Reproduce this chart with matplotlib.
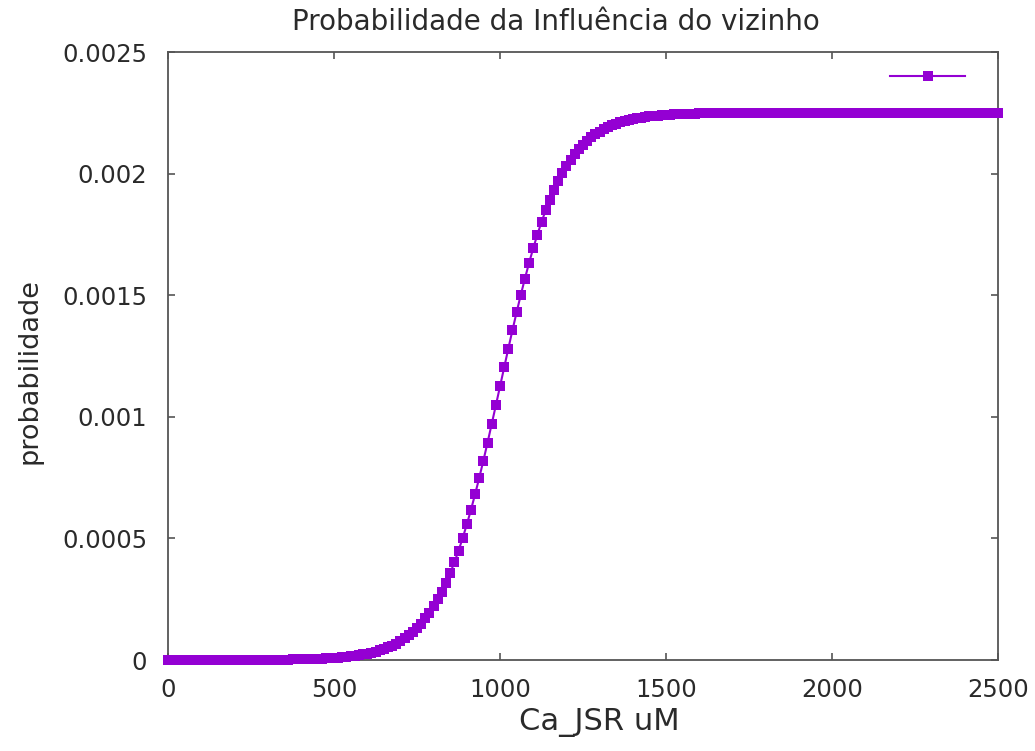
import numpy as np
import matplotlib
matplotlib.use("Agg")
import matplotlib.pyplot as plt

# Ca_JSR grid (uM), sampled every 12.5 uM from 0 to 2500
ca_jsr = np.arange(0, 2500.1, 12.5)

# probability values, in units of 1e-3
prob_low_milli = [  # x = 0 .. 987.5
    0.00003, 0.00004, 0.00004, 0.00005, 0.00006, 0.00007, 0.00008, 0.00009,
    0.00010, 0.00012, 0.00013, 0.00015, 0.00018, 0.00020, 0.00023, 0.00027,
    0.00031, 0.00036, 0.00041, 0.00047, 0.00054, 0.00062, 0.00071, 0.00082,
    0.00094, 0.00108, 0.00124, 0.00143, 0.00164, 0.00189, 0.00217, 0.00249,
    0.00286, 0.00328, 0.00377, 0.00434, 0.00498, 0.00572, 0.00657, 0.00755,
    0.00866, 0.00996, 0.01143, 0.01312, 0.01506, 0.01728, 0.01984, 0.02276,
    0.02612, 0.02996, 0.03435, 0.03938, 0.04513, 0.05170, 0.05920, 0.06776,
    0.07750, 0.08860, 0.10120, 0.11551, 0.13171, 0.15003, 0.17068, 0.19392,
    0.21999, 0.24914, 0.28161, 0.31765, 0.35746, 0.40122, 0.44907, 0.50108,
    0.55725, 0.61748, 0.68162, 0.74935, 0.82030, 0.89396, 0.96975, 1.04700,
]
prob_high_milli = [  # x = 1000 .. 2500
    1.12500, 1.20300, 1.28025, 1.35604, 1.42970, 1.50065, 1.56838, 1.63252,
    1.69275, 1.74892, 1.80093, 1.84878, 1.89254, 1.93235, 1.96839, 2.00086,
    2.03001, 2.05608, 2.07932, 2.09997, 2.11829, 2.13449, 2.14880, 2.16140,
    2.17250, 2.18224, 2.19080, 2.19830, 2.20487, 2.21062, 2.21565, 2.22004,
    2.22388, 2.22724, 2.23016, 2.23272, 2.23494, 2.23688, 2.23857, 2.24004,
    2.24134, 2.24245, 2.24343, 2.24428, 2.24502, 2.24566, 2.24623, 2.24672,
    2.24714, 2.24751, 2.24783, 2.24811, 2.24836, 2.24857, 2.24876, 2.24892,
    2.24906, 2.24918, 2.24929, 2.24938, 2.24946, 2.24953, 2.24959, 2.24964,
    2.24969, 2.24973, 2.24977, 2.24980, 2.24982, 2.24985, 2.24987, 2.24988,
    2.24990, 2.24991, 2.24992, 2.24993, 2.24994, 2.24995, 2.24996, 2.24996,
    2.24997, 2.24997, 2.24998, 2.24998, 2.24998, 2.24998, 2.24999, 2.24999,
    2.24999, 2.24999, 2.24999, 2.24999, 2.24999, 2.25000, 2.25000, 2.25000,
    2.25000, 2.25000, 2.25000, 2.25000, 2.25000, 2.25000, 2.25000, 2.25000,
    2.25000, 2.25000, 2.25000, 2.25000, 2.25000, 2.25000, 2.25000, 2.25000,
    2.25000, 2.25000, 2.25000, 2.25000, 2.25000, 2.25000, 2.25000, 2.25000,
    2.25000,
]
prob = np.array(prob_low_milli + prob_high_milli) * 1e-3

x_ticks = [0, 500, 1000, 1500, 2000, 2500]
y_ticks = [0, 0.0005, 0.001, 0.0015, 0.002, 0.0025]
y_tick_labels = ["0", "0.0005", "0.001", "0.0015", "0.002", "0.0025"]

title = "Probabilidade da Influência do vizinho"
xlabel = "Ca_JSR uM"
ylabel = "probabilidade"

color = "#9400D3"
text_color = "#2a2a2a"
spine_color = "#555555"

plt.rcParams["font.family"] = ["DejaVu Sans"]

fig = plt.figure(figsize=(10.35, 7.51), dpi=100)
ax = fig.add_axes([168 / 1035, 1 - 660 / 751, (998 - 168) / 1035, (660 - 52) / 751])

line, = ax.plot(ca_jsr, prob, color=color, lw=1.5, marker="s", ms=7.5,
                markeredgewidth=0, clip_on=False, zorder=3)

ax.set_xlim(0, 2500)
ax.set_ylim(0, 0.0025)
ax.set_xticks(x_ticks)
ax.set_xticklabels([str(t) for t in x_ticks])
ax.set_yticks(y_ticks)
ax.set_yticklabels(y_tick_labels)

ax.tick_params(axis="both", direction="in", length=5, width=1.2, color=spine_color,
               labelsize=17.5, labelcolor=text_color, top=True, right=True)
ax.tick_params(axis="x", pad=13)
ax.tick_params(axis="y", pad=15)
for sp in ax.spines.values():
    sp.set_color(spine_color)
    sp.set_linewidth(1.3)

ax.set_xlabel(xlabel, fontsize=22, color=text_color, labelpad=4)
ax.xaxis.label.set_x(0.52)
ax.set_ylabel(ylabel, fontsize=19.5, color=text_color, labelpad=14)
ax.yaxis.label.set_y(0.475)
fig.text(556 / 1035, 1 - 22 / 751, title, fontsize=20, color=text_color,
         ha="center", va="center")

leg_line, = ax.plot([], [], color=color, lw=1.5, marker="s", ms=7.5, markeredgewidth=0)
ax.legend([leg_line], [""], loc="upper right", frameon=False, numpoints=1,
          handlelength=5.4, borderaxespad=0.6, handletextpad=0.3,
          bbox_to_anchor=(0.982, 0.993))

fig.savefig("out.png", dpi=100)
